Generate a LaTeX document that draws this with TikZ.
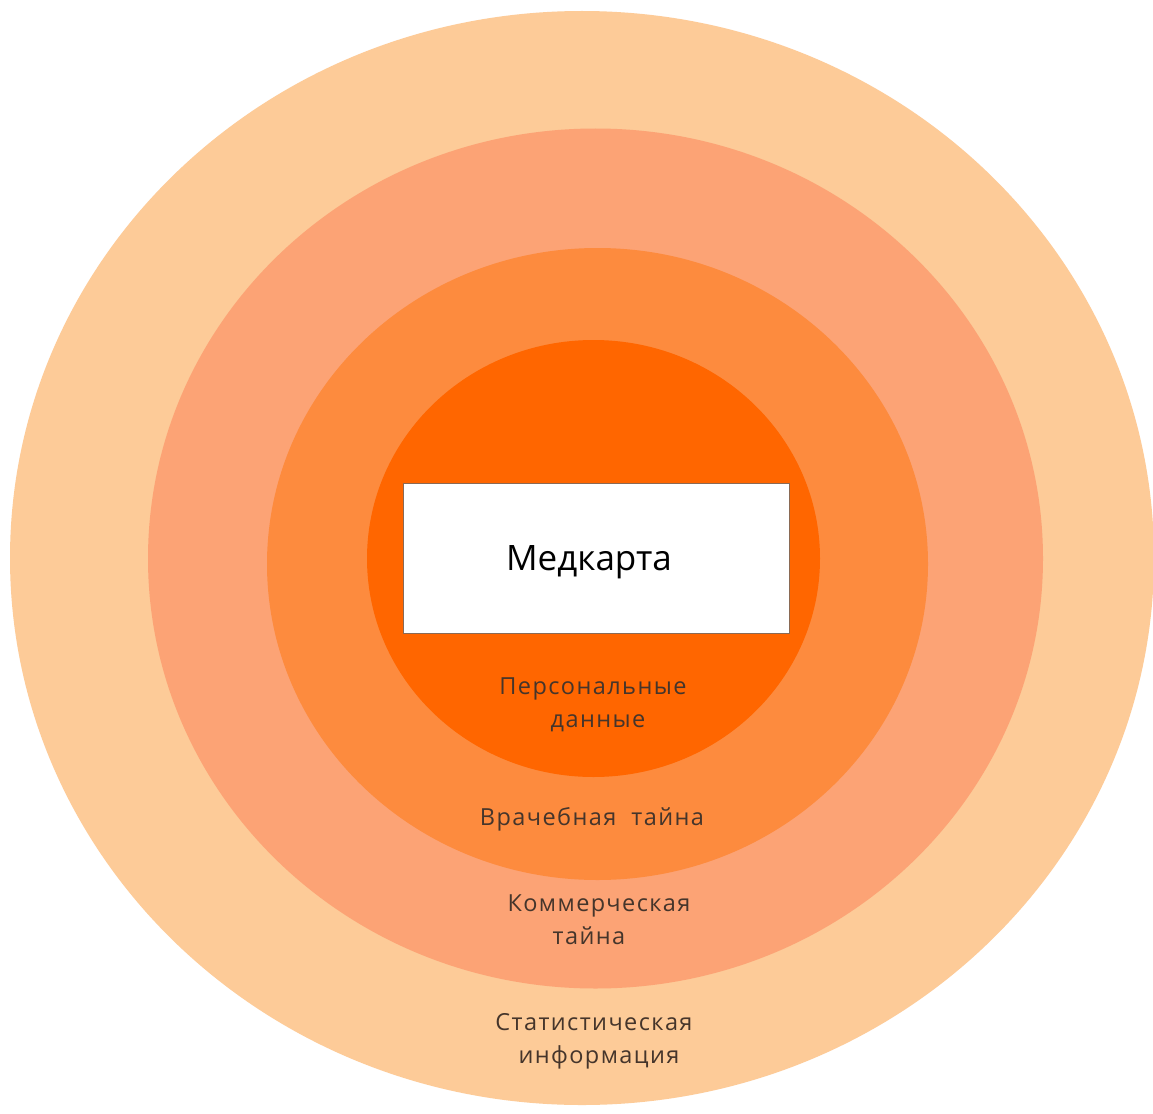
\documentclass[tikz,border=0pt]{standalone}
\usepackage{fontspec}
\setmainfont{Open Sans}
\newfontfamily\labelfont[LetterSpace=6]{Open Sans}
\definecolor{ringA}{HTML}{FDCB98}
\definecolor{ringB}{HTML}{FCA375}
\definecolor{ringC}{HTML}{FD8B3E}
\definecolor{ringD}{HTML}{FF6600}
\definecolor{labelcol}{HTML}{45352B}
\definecolor{cardedge}{HTML}{8A6A55}
\tikzset{
  lbl/.style={text=labelcol, font=\labelfont\fontsize{23.5}{26}\selectfont, inner sep=0pt, anchor=base},
}
\begin{document}
\begin{tikzpicture}[x=1pt, y=-1pt]
  \useasboundingbox (0,0) rectangle (1153,1113);
  \clip (0,0) rectangle (1153,1113);
  \fill[white] (0,0) rectangle (1153,1113);
  % concentric zones, outermost first
  \fill[ringA] (582,558) ellipse [x radius=572, y radius=547];
  \fill[ringB] (595.5,558.5) ellipse [x radius=447.5, y radius=430];
  \fill[ringC] (597.5,564) ellipse [x radius=330.5, y radius=316];
  \fill[ringD] (593.5,558.5) ellipse [x radius=226.5, y radius=218.5];
  % the record itself
  \node[draw=cardedge, line width=0.8pt, fill=white, minimum width=386pt, minimum height=150pt,
        inner sep=0pt] (card) at (596,558.5) {};
  \node[font=\fontsize{35}{40}\selectfont, text=black, inner sep=0pt, anchor=base] (cardtext) at (589,570) {Медкарта};
  % zone labels
  \node[lbl] (pd1) at (593,694) {Персональные};
  \node[lbl] (pd2) at (598,727) {данные};
  \node[lbl] (vt) at (592,825) {Врачебная\ \ тайна};
  \node[lbl] (kt1) at (599,911) {Коммерческая};
  \node[lbl] (kt2) at (589,944) {тайна};
  \node[lbl] (si1) at (594,1030) {Статистическая};
  \node[lbl] (si2) at (599,1063) {информация};
\end{tikzpicture}
\end{document}
